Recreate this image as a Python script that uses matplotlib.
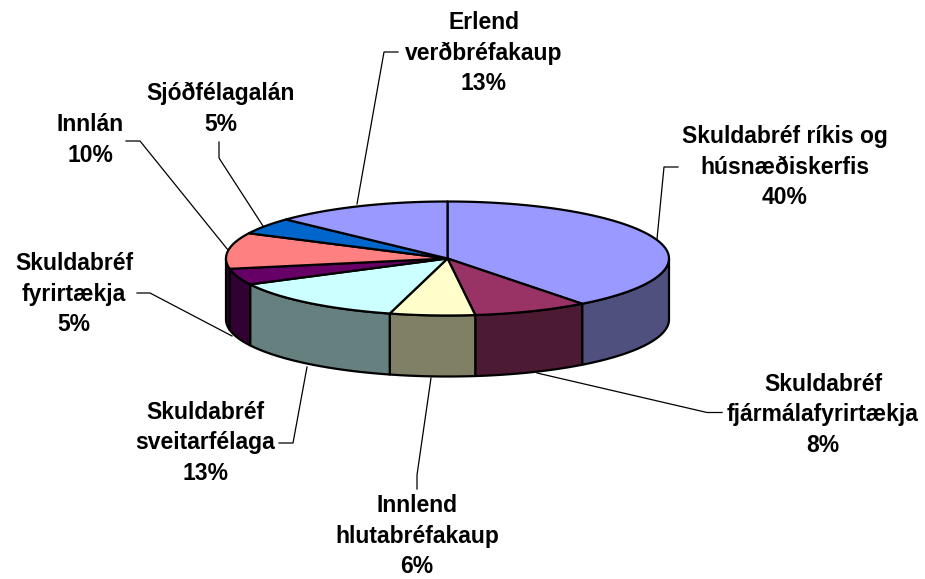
# 3D STYLE PIE CHART - ISLENSK SKIPTING EIGNA

import numpy as np
import matplotlib
matplotlib.use("Agg")
import matplotlib.pyplot as plt

# --------------------------------------------------
# DATA
# --------------------------------------------------

names = [
    "Skuldabréf ríkis og\nhúsnæðiskerfis",
    "Skuldabréf\nfjármálafyrirtækja",
    "Innlend\nhlutabréfakaup",
    "Skuldabréf\nsveitarfélaga",
    "Skuldabréf\nfyrirtækja",
    "Innlán",
    "Sjóðfélagalán",
    "Erlend\nverðbréfakaup",
]
shares = [39.6, 8.4, 6.2, 13.3, 4.6, 10.2, 4.7, 13.0]

top_colors = ["#9999FF", "#993366", "#FFFFCC", "#CCFFFF", "#660066", "#FF8080", "#0066CC", "#9999FF"]
side_colors = ["#50507F", "#4D1A33", "#808066", "#668080", "#330033", "#330033", "#003366", "#50507F"]

# --------------------------------------------------
# LAYOUT (pixels of the 925x579 picture)
# --------------------------------------------------

cx, cy = 447.5, 258.5
rx, ry = 221.5, 57
depth = 61

label_xy = [(785, 167), (823, 415), (417, 536), (205, 443), (74, 294), (90, 140), (221, 109), (484, 53)]

leaders = [
    [(657, 239), (664, 167), (678, 167)],
    [(537, 373), (707, 412.5), (722, 412.5)],
    [(431, 378), (417, 475), (417, 489)],
    [(307, 367), (293, 443), (279, 443)],
    [(232, 336), (150, 293), (137, 293)],
    [(228, 250), (140, 141), (126, 141)],
    [(263, 226), (219, 158), (219, 142)],
    [(357, 204), (384, 52), (398, 52)],
]


def arc(a0, a1, dy=0):
    # angles in degrees, clockwise from the top of the pie
    t = np.radians(np.linspace(a0, a1, 80))
    return cx + rx * np.sin(t), cy - ry * np.cos(t) + dy


fig = plt.figure(figsize=(9.25, 5.79), dpi=100)
ax = fig.add_axes([0, 0, 1, 1])
ax.set_xlim(0, 925)
ax.set_ylim(579, 0)
ax.axis("off")

edges = np.concatenate([[0], np.cumsum(shares)]) / np.sum(shares) * 360

# --------------------------------------------------
# SIDES (only the front half shows)
# --------------------------------------------------

for i in range(len(shares)):
    a0 = max(edges[i], 90)
    a1 = min(edges[i + 1], 270)
    if a1 <= a0:
        continue
    x, y = arc(a0, a1)
    xb, yb = arc(a0, a1, depth)
    ax.fill(np.concatenate([x, xb[::-1]]), np.concatenate([y, yb[::-1]]),
            facecolor=side_colors[i], edgecolor="black", linewidth=1.6, joinstyle="round")

# --------------------------------------------------
# TOP SLICES
# --------------------------------------------------

for i in range(len(shares)):
    x, y = arc(edges[i], edges[i + 1])
    ax.fill(np.concatenate([[cx], x]), np.concatenate([[cy], y]),
            facecolor=top_colors[i], edgecolor="black", linewidth=1.6, joinstyle="round")

# --------------------------------------------------
# LEADER LINES AND LABELS
# --------------------------------------------------

for line in leaders:
    ax.plot([p[0] for p in line], [p[1] for p in line], color="black", linewidth=0.9)

for name, share, (lx, ly) in zip(names, shares, label_xy):
    ax.text(lx, ly, f"{name}\n{round(share)}%", ha="center", va="center", multialignment="center",
            family="Liberation Sans", fontweight="bold", fontsize=16.5, linespacing=1.42, color="black")

plt.savefig("out.png", dpi=100)
